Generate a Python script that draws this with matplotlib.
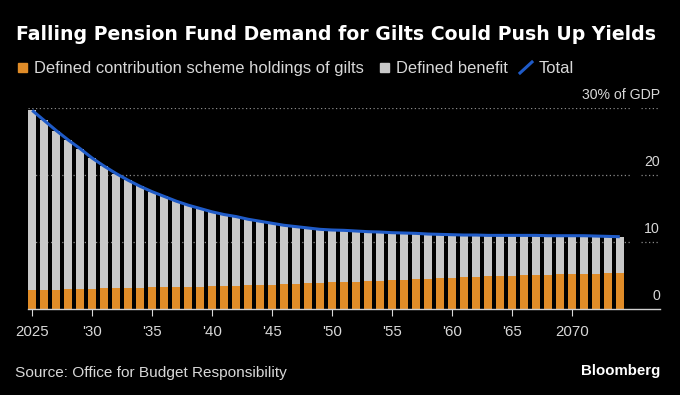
import matplotlib.pyplot as plt
import matplotlib.transforms as mtransforms
from matplotlib.patches import Rectangle
from matplotlib.lines import Line2D

# Data (% of GDP)
years = list(range(2025, 2075))
total = [29.6, 28.1, 26.6, 25.2, 23.9, 22.5, 21.3, 20.2, 19.2, 18.3,
         17.5, 16.8, 16.1, 15.5, 15.0, 14.5, 14.1, 13.8, 13.4, 13.1,
         12.8, 12.5, 12.3, 12.1, 11.9, 11.8, 11.75, 11.65, 11.55, 11.5,
         11.4, 11.35, 11.3, 11.2, 11.15, 11.1, 11.05, 11.05, 11.0, 11.0,
         11.0, 11.0, 11.0, 10.95, 10.95, 10.95, 10.95, 10.9, 10.85, 10.8]
dc = [2.8, 2.85, 2.9, 2.95, 3.0, 3.05, 3.1, 3.1, 3.15, 3.2,
      3.25, 3.3, 3.3, 3.35, 3.35, 3.4, 3.45, 3.5, 3.55, 3.6,
      3.65, 3.7, 3.8, 3.85, 3.95, 4.0, 4.05, 4.1, 4.15, 4.2,
      4.3, 4.4, 4.45, 4.5, 4.6, 4.7, 4.75, 4.85, 4.9, 4.95,
      5.0, 5.05, 5.1, 5.15, 5.2, 5.25, 5.3, 5.3, 5.35, 5.35]
db = [t - d for t, d in zip(total, dc)]

tick_years = [2025, 2030, 2035, 2040, 2045, 2050, 2055, 2060, 2065, 2070]
tick_labels = ["2025", "'30", "'35", "'40", "'45", "'50", "'55", "'60", "'65", "2070"]
y_vals = [0, 10, 20, 30]
y_labels = ["0", "10", "20", "30% of GDP"]

ORANGE = "#E08C28"
GRAY = "#C8C8C8"
BLUE = "#1F5BC8"
TXT = "#D8D8D8"
FS = 10.8

plt.rcParams["font.family"] = ["Liberation Sans", "DejaVu Sans"]

W, H = 680, 395
fig = plt.figure(figsize=(6.8, 3.95), dpi=100, facecolor="black")
ax = fig.add_axes([28 / W, 1 - 309.3 / H, (660 - 28) / W, (309.3 - 107.7) / H])
ax.set_facecolor("black")

ax.bar(years, dc, width=0.7, color=ORANGE, zorder=2)
ax.bar(years, db, width=0.7, bottom=dc, color=GRAY, zorder=2)
ax.plot(years, total, color=BLUE, lw=2.2, zorder=3, solid_capstyle="butt")

ax.set_xlim(2024.65, 2077.35)
ax.set_ylim(0, 30)

# dotted gridlines, broken before the label column
for v in y_vals[1:]:
    ax.hlines(v, 2024.65, 2074.9, colors="#8a8a8a", linestyles=(0, (1, 2)), lw=0.9, zorder=1)
    ax.hlines(v, 2075.8, 2077.35, colors="#8a8a8a", linestyles=(0, (1, 2)), lw=0.9, zorder=1)

trans = mtransforms.blended_transform_factory(ax.transAxes, ax.transData)
for v, lab in zip(y_vals, y_labels):
    ax.annotate(lab, xy=(1.0, v), xycoords=trans, xytext=(0, 6.5), textcoords="offset points",
                ha="right", va="baseline", color=TXT, fontsize=10.2)

for s in ["top", "right", "left"]:
    ax.spines[s].set_visible(False)
ax.spines["bottom"].set_color("#d0d0d0")
ax.spines["bottom"].set_linewidth(1.0)
ax.set_yticks([])
ax.set_xticks(tick_years)
ax.set_xticklabels(tick_labels)
ax.tick_params(axis="x", colors=TXT, length=5, width=0.8, labelsize=FS, pad=6)

# title
fig.text(16 / W, 1 - 40 / H, "Falling Pension Fund Demand for Gilts Could Push Up Yields",
         color="white", fontsize=13.6, fontweight="bold", va="baseline", ha="left",
         family=["DejaVu Sans"])

# legend
LFS = 11.9
ly = 1 - 73 / H
fig.patches.append(Rectangle((18 / W, 1 - 72.3 / H), 8.5 / W, 9 / H,
                             transform=fig.transFigure, color=ORANGE, figure=fig))
fig.text(34 / W, ly, "Defined contribution scheme holdings of gilts", color=TXT,
         fontsize=LFS, va="baseline", ha="left")
fig.patches.append(Rectangle((380 / W, 1 - 72.3 / H), 9 / W, 9 / H,
                             transform=fig.transFigure, color=GRAY, figure=fig))
fig.text(396 / W, ly, "Defined benefit", color=TXT, fontsize=LFS, va="baseline", ha="left")
fig.lines.append(Line2D([520 / W, 532 / W], [1 - 73 / H, 1 - 62 / H],
                        transform=fig.transFigure, color=BLUE, lw=2.2))
fig.text(539 / W, ly, "Total", color=TXT, fontsize=LFS, va="baseline", ha="left")

# footer
fig.text(15 / W, 1 - 377 / H, "Source: Office for Budget Responsibility", color=TXT,
         fontsize=11.1, va="baseline", ha="left")
fig.text(660 / W, 1 - 375 / H, "Bloomberg", color="white",
         fontsize=10.8, fontweight="bold", va="baseline", ha="right")

fig.savefig("out.png", dpi=100, facecolor="black")
